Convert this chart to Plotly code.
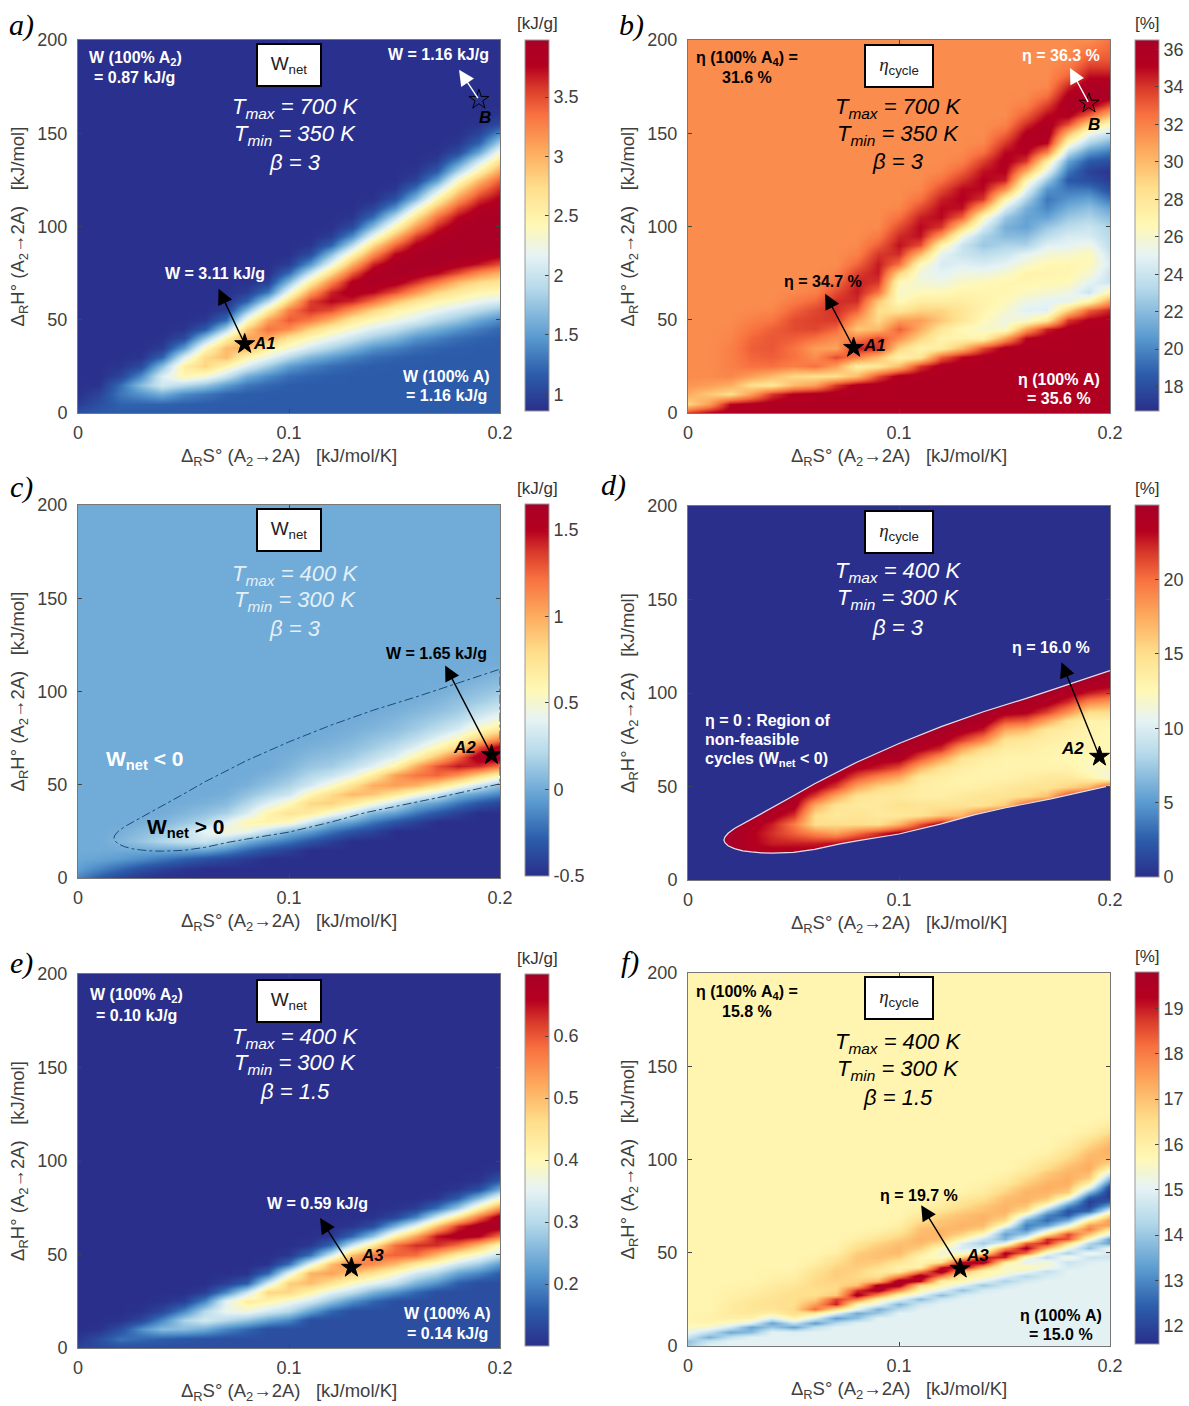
import plotly.graph_objects as go

W, H = 1189, 1406
FONT = "Liberation Sans"
SERIF = "Liberation Serif"

X = [0, .01, .02, .03, .04, .05, .06, .07, .08, .09, .10, .11, .12, .13, .14, .15, .16, .17, .18, .19, .20]

# Each column of a map: (first y that departs from the flat level below it, values at every y step from there).
# Below that y the map sits at the panel's low level, above the listed values at its high level.
A_STEP, A_LOW, A_HIGH = 5, 1.16, .87
A_COLS = [
(0,[1.1,.95,.88]),
(0,[1.14,1.08,1.0,.9]),
(0,[1.16,1.2,1.3,1.25,1.0,.9]),
(0,[1.16,1.2,1.45,1.7,1.4,1.05,.9]),
(0,[1.16,1.2,1.6,2.05,2.1,1.7,1.2,.95,.88]),
(5,[1.18,1.4,1.9,2.45,2.55,2.1,1.5,1.05,.9]),
(5,[1.17,1.3,1.75,2.3,2.8,2.75,2.4,1.75,1.15,.92]),
(10,[1.2,1.5,2.0,2.45,2.95,2.95,2.5,1.85,1.25,.95]),
(10,[1.17,1.3,1.6,2.1,2.45,3.0,3.1,2.85,2.35,1.7,1.2,.95,.88]),
(15,[1.22,1.4,1.8,2.2,2.55,3.05,3.35,3.1,2.55,1.9,1.3,.98]),
(15,[1.17,1.25,1.5,1.9,2.3,2.65,3.2,3.45,3.3,2.8,2.25,1.7,1.25,.95]),
(20,[1.2,1.35,1.65,2.05,2.4,2.8,3.3,3.6,3.55,3.1,2.55,2.0,1.45,1.05,.9]),
(20,[1.17,1.25,1.5,1.85,2.2,2.5,3.0,3.5,3.75,3.65,3.25,2.75,2.2,1.7,1.2,.95,.88]),
(25,[1.2,1.35,1.65,2.0,2.3,2.6,3.15,3.65,3.85,3.8,3.45,3.0,2.45,1.9,1.4,1.05,.9]),
(25,[1.17,1.25,1.45,1.8,2.1,2.4,2.8,3.35,3.75,3.9,3.9,3.65,3.2,2.75,2.2,1.7,1.25,1.0,.88]),
(30,[1.2,1.35,1.65,1.95,2.25,2.5,2.95,3.5,3.85,3.93,3.92,3.75,3.4,2.95,2.45,1.95,1.45,1.1,.92]),
(30,[1.17,1.25,1.45,1.75,2.1,2.35,2.65,3.15,3.6,3.9,3.95,3.92,3.8,3.55,3.15,2.7,2.25,1.7,1.3,1.0,.9]),
(35,[1.2,1.35,1.6,1.9,2.2,2.45,2.8,3.3,3.75,3.92,3.95,3.93,3.85,3.65,3.35,2.95,2.5,2.0,1.5,1.15,.95,.88]),
(35,[1.17,1.25,1.45,1.75,2.05,2.35,2.6,2.95,3.5,3.85,3.95,3.95,3.93,3.9,3.75,3.5,3.15,2.75,2.35,1.85,1.4,1.05,.92]),
(40,[1.2,1.32,1.55,1.9,2.2,2.45,2.75,3.2,3.7,3.92,3.95,3.95,3.95,3.92,3.8,3.6,3.3,2.95,2.5,2.05,1.55,1.2,1.0,.9]),
(40,[1.17,1.22,1.4,1.75,2.1,2.4,2.65,3.0,3.5,3.85,3.95,3.95,3.95,3.95,3.9,3.8,3.65,3.45,3.1,2.7,2.3,1.85,1.4,1.05,.92]),
]

B_STEP, B_LOW, B_HIGH = 5, 35.6, 31.6
B_COLS = [
(0,[34,29,30.5,31.3]),
(0,[35.3,31,29.5,31]),
(0,[35.6,35,28.5,30.5,31.8,32,32,32,31.8,31.7]),
(5,[35.4,31,28.5,31,32.5,32.8,33,32.8,32.4,32,31.7]),
(10,[34,28,30,32.5,33,33.2,33.2,33,32.4,31.8]),
(10,[35.3,30,28.8,32,32.5,32.4,33,33.5,33.5,32.9,32.2,31.7]),
(15,[31,28.5,32.5,31.5,31,32.5,33.6,33.8,33.6,32.8,32,31.7]),
(15,[34,28.5,31,33.5,30.8,31.5,32.8,33.9,34.2,34.2,33.5,32.5,31.9]),
(20,[30,27.5,32,34.7,32,29.5,31,33,34.2,34.6,34.5,33.8,32.8,32,31.7]),
(20,[33.5,28,30,34,33.5,30,28.8,28.5,29.5,32.5,34,34.6,34.6,34,33,32.2,31.7]),
(25,[30,27,29,31.5,33,31,28,26.5,26,26.5,29,32.5,34.2,34.8,34.3,33.5,32.5,31.8]),
(25,[34,28,27,29,30.5,31,29,27.5,26.5,25.8,25.5,26.5,30,33.5,34.8,35,34.5,33.5,32.5,31.8]),
(30,[33,27.5,27,28,29.5,29,27.5,26.5,25.5,25,24.5,25,27,31,34,35,35,34.5,33.5,32.5,31.8]),
(30,[35,30,27,26.5,28,28,27.5,27,26.2,25.5,24.8,24,24,25.5,29,33,34.8,35.2,35,34,33,32,31.7]),
(35,[33.5,27,26,26.5,27,27,26.8,26.5,25.5,24.5,23.5,22.5,23,24.5,26.5,30.5,34,35,35.2,34.8,33.8,32.5,31.8]),
(40,[31,26,25.5,26,26.5,26.8,26.8,26,25,24,23,22,21.5,22.5,24.5,27,31.5,34.5,35.2,35.5,35,34,32.8,31.9]),
(40,[35,31,26,24.8,25.5,26.3,26.8,27,26,25,23,22,21,21,21.5,23,25,27,30.5,34,35.2,35.8,35.3,34.2,33,32,31.7]),
(45,[34.5,28,24.8,25,26,26.6,26.9,26.7,25.8,24.8,23.5,22.5,21,20,19.5,20.5,22.5,25,27.5,32,35,36,35.8,35,33.8,32.6,31.8]),
(50,[34,29,25,25.5,26.5,26.8,26.8,26,25,24.5,23.5,22.5,21.5,20.5,19.5,18.5,19.5,21,23.5,26.5,30,33.5,35.5,36,35.5,34.5,33,32.2,31.8]),
(50,[35.3,33,27,24,25,26,26.5,26.5,25.5,24.5,24,23,22.2,21,19.5,18,17.5,18.5,20.5,23,25.5,29,33,35.8,36.3,36,35,34,33,32.2]),
(55,[34.5,31,27,24,24,24.5,24,23.5,23.3,23,22,21,19.5,18,17.3,17,18,19.5,21.5,24,26.5,30,33.5,36,36,35,34,33.2,32.8,32.5]),
]

C_STEP, C_LOW, C_HIGH = 5, -.5, 0
C_COLS = [
(0,[-.15,-.05,-.01]),
(0,[-.3,-.15,-.03,0]),
(0,[-.4,-.25,-.07,0,.05,.02]),
(0,[-.47,-.35,-.13,0,.12,.07,.02]),
(0,[-.5,-.42,-.2,0,.2,.12,.05,.01]),
(5,[-.47,-.28,-.01,.27,.25,.12,.05,.01]),
(10,[-.35,-.02,.3,.42,.2,.1,.03]),
(10,[-.4,-.12,.2,.5,.38,.17,.07,.02]),
(10,[-.45,-.25,.02,.45,.6,.35,.2,.1,.03]),
(15,[-.35,-.1,.25,.62,.62,.38,.2,.1,.04]),
(15,[-.42,-.2,.05,.55,.75,.55,.3,.18,.1,.05,.02]),
(20,[-.32,-.05,.3,.68,.82,.58,.32,.2,.12,.07,.03]),
(20,[-.42,-.2,.05,.5,.85,.8,.5,.28,.15,.1,.05,.02]),
(25,[-.32,-.05,.28,.7,.95,.75,.42,.25,.15,.09,.05,.02]),
(25,[-.4,-.2,.05,.5,.9,1.0,.68,.38,.25,.15,.1,.05,.02]),
(30,[-.32,-.05,.28,.72,1.05,1.05,.62,.38,.24,.15,.09,.05,.02]),
(30,[-.42,-.2,.05,.5,.98,1.2,1.0,.62,.38,.24,.15,.1,.05,.02]),
(35,[-.32,-.05,.3,.8,1.25,1.3,.92,.58,.38,.24,.15,.09,.05,.02]),
(35,[-.42,-.2,.05,.55,1.1,1.45,1.25,.8,.55,.35,.22,.14,.1,.05,.02]),
(40,[-.32,-.05,.3,.85,1.4,1.6,1.3,.85,.55,.36,.24,.15,.1,.05,.02]),
(40,[-.4,-.15,.08,.6,1.2,1.65,1.55,1.1,.7,.48,.33,.22,.14,.08,.04,.01]),
]

D_STEP, D_LOW, D_HIGH = 5, 24, 25
D_COLS = [
(0,[24]),
(0,[24]),
(0,[24]),
(15,[24,23.5,23.5,24,24.5]),
(15,[24,22.5,22,22.5,24,24.5]),
(15,[24,22.5,20.5,19.5,22,24,24.5]),
(15,[24,22.5,19,15,15,17.5,21.5,24,24.8]),
(15,[24,23,18,15,14,14.5,17.5,21.5,24,24.8]),
(15,[24,24,20,15,14.5,14,14.5,17.5,21,23.5,24.5]),
(20,[24,22,14.8,14,14,14,15.5,19,22.5,24,24.8]),
(20,[24,24,17,14,14.8,14,14.5,17.5,21,24,24.8]),
(25,[24,21,14.5,14.5,13.5,13.5,14,17,21,23.5,24.5]),
(25,[24,24,16,14.5,13.5,13.2,13.5,14.5,18,22,24,24.8]),
(30,[22,17,14.5,14,13.2,13,13.5,14.5,17.5,21.5,24,24.8]),
(30,[24,21,14.5,14.5,13.5,13,13,13.5,15,19,22.5,24.5]),
(35,[24,16,14.5,14,13,13,13,13.5,14.5,17.5,21,24]),
(35,[24,21,15,14.5,13.5,13,13,13.5,14,16.5,20.5,23.5,24.5]),
(40,[24,16.5,14.5,14,13,12.8,13,13.5,14,17.5,21.5,24,24.8]),
(40,[24,22,15.5,14,13,12.5,12.8,13,13.5,14.5,18.5,22,24,24.8]),
(45,[24,17,13,12,12.5,12.8,12.8,13,13,15,19,22.5,24.5]),
(50,[22,11,12,12.5,12.5,12.5,12.5,13,15,18,21.5,24]),
]

E_STEP, E_LOW, E_HIGH = 5, .14, .10
E_COLS = [
(0,[.13,.11]),
(0,[.135,.14,.105]),
(0,[.14,.18,.14,.105]),
(0,[.14,.17,.21,.13,.105]),
(5,[.16,.26,.2,.13,.105]),
(5,[.15,.26,.29,.2,.12]),
(5,[.145,.24,.33,.3,.2,.12]),
(10,[.2,.3,.36,.35,.2,.12]),
(10,[.17,.27,.37,.43,.32,.16,.105]),
(15,[.23,.33,.41,.47,.33,.17,.105]),
(15,[.2,.3,.37,.47,.48,.35,.18,.11]),
(20,[.23,.33,.41,.5,.51,.35,.18,.11]),
(20,[.17,.27,.35,.45,.53,.5,.33,.17,.11]),
(25,[.21,.31,.39,.49,.57,.5,.32,.17,.11]),
(25,[.17,.25,.35,.45,.55,.58,.44,.27,.14,.105]),
(30,[.21,.31,.39,.5,.59,.58,.42,.25,.13,.105]),
(30,[.17,.25,.33,.43,.58,.63,.53,.36,.2,.12]),
(35,[.21,.29,.38,.5,.63,.65,.5,.33,.18,.11]),
(35,[.16,.23,.32,.42,.58,.68,.63,.45,.28,.16,.11]),
(40,[.2,.28,.37,.5,.66,.69,.58,.42,.26,.14,.105]),
(40,[.16,.22,.31,.4,.58,.69,.69,.55,.38,.24,.15,.11]),
]

F_STEP, F_LOW, F_HIGH = 2.5, 15, 15.8
F_COLS = [
(0,[14.1,13.9,14.6,15.2,15.6]),
(0,[15,14.6,13.6,14.5,15.4,15.8,15.9,15.9]),
(0,[15,15,14.5,13.5,14.7,15.5,16,16.1,16.1,16.1,16,15.95,15.9,15.85]),
(2.5,[15,15,13.8,13.4,14.9,15.9,16.2,16.3,16.3,16.2,16.1,16,15.9,15.85]),
(5,[15,15,14,13.4,14.9,16,16.3,16.4,16.4,16.3,16.2,16.1,16,15.9,15.85]),
(7.5,[14.9,13.4,14.5,15.9,16.5,16.6,16.5,16.5,16.5,16.4,16.3,16.1,16,15.9]),
(7.5,[15,14.5,13.3,14.8,16.2,18.2,17.5,16.8,16.5,16.5,16.6,16.6,16.5,16.4,16.2,16,15.9]),
(10,[15,14.4,13.3,14.9,16.5,19,18.7,16.9,16.6,16.6,16.7,16.8,16.8,16.7,16.5,16.3,16,15.9]),
(12.5,[15,13.9,13.5,15.1,15.8,18,19.5,18.8,17,16.7,16.6,16.7,16.8,16.9,16.9,16.8,16.5,16.3,16,15.9]),
(15,[15,14,13.6,15.1,15.9,17.8,19.5,19.5,17.2,16.4,16.2,16.5,16.8,17,17,16.9,16.7,16.4,16.1,15.9]),
(17.5,[15,14.4,13.7,15,15.8,17.8,19.5,19.7,17.8,16.1,15.9,16.3,16.8,17.1,17.1,17,16.8,16.5,16.2,16,15.9]),
(20,[15,14.7,13.8,15,15.8,16.6,19.2,19.7,17.8,16,15.8,15.8,16.2,16.8,17.1,17.2,17.1,17,16.8,16.5,16.2,16,15.9]),
(22.5,[15,14.7,13.8,15,15.8,16,18,19.7,19,16.4,15.6,15.3,15.6,16.5,17,17.2,17.2,17,16.9,16.7,16.4,16.1,16,15.9]),
(25,[15,14.8,13.9,15,15.8,16,17.3,19.7,19.2,16.7,15.5,14.8,14.9,15.8,16.7,17.1,17.2,17.1,17,16.8,16.5,16.3,16.1,15.9]),
(27.5,[15,14.8,14,15,15.8,15.8,17.3,19.7,18.9,16.2,14.9,14.1,14.6,15.6,16.7,17.1,17.2,17.2,17,16.9,16.6,16.4,16.1,16,15.9]),
(30,[15,14.7,14.2,15,15.7,15.3,16.2,19,19.4,17.7,15,13.7,13.4,14.2,15.5,16.6,17,17.2,17.2,17.1,17,16.7,16.5,16.2,16,15.9]),
(32.5,[15,14.8,14.3,15.2,15.8,15,15.5,18.2,19.4,18.3,15.5,14,13,12.9,13.6,15,16.3,16.9,17.2,17.2,17.2,17,16.8,16.6,16.3,16.1,16,15.9]),
(35,[15,14.8,14.5,15.3,15.4,14.4,15.2,17.2,19,18.9,16.3,14.6,13.3,12.6,12.9,13.8,15.2,16.5,17,17.2,17.3,17.2,17,16.9,16.6,16.4,16.2,16,15.9]),
(40,[15,14.8,14.6,15.4,14.2,15.2,16.5,18.5,18.6,16.5,15,13.5,12.4,12.2,13,14.3,15.6,16.8,17.1,17.3,17.3,17.2,17.1,16.9,16.7,16.5,16.3,16.1,16,15.9]),
(42.5,[15,14.9,14.6,15.3,13.9,14.3,15.6,17,18,17.5,16,14.2,12.6,12,11.9,12.5,13.8,15.2,16,16.8,17.1,17.3,17.3,17.2,17.1,16.9,16.7,16.5,16.2,16,15.9]),
(45,[15,14.7,14.7,15.3,13.4,13.3,15,16.3,17.5,17.6,16.6,15.2,13.5,12.3,11.8,11.7,12,12.8,13.8,14.8,15.8,16.6,17,17.2,17.3,17.2,17,16.8,16.5,16.2,16,15.9]),
]

# limit of the region with Wnet > 0 (panels c and d)
BOUND_UP_X = [.017,.0175,.019,.022,.026,.03,.04,.05,.06,.08,.10,.12,.14,.16,.18,.20]
BOUND_UP_Y = [21.4,23,25,27.5,30,32.5,38.5,45,51.5,63,73,82,90,97,104.5,112]
BOUND_LOW_X = [.017,.0175,.019,.022,.026,.03,.035,.04,.05,.06,.072,.08,.10,.12,.136,.15,.172,.20]
BOUND_LOW_Y = [21.4,20,18.3,16.8,15.6,15,14.5,14.4,14.8,16.4,19.3,20.9,24.6,30,35,38.5,43.4,50.5]

SCALE = [[0,"#2a2f8c"],[.1,"#2c5dab"],[.2,"#5a9bd0"],[.33,"#b5d9ea"],[.42,"#e6f3f4"],[.5,"#fff8b5"],
         [.6,"#fedf8c"],[.7,"#fdab5e"],[.8,"#f8703f"],[.87,"#d93a2a"],[.93,"#b5001f"],[1,"#a80028"]]
NAVY = SCALE[0][1]

X_TICKS = [0, .1, .2]
X_TICKTEXT = ["0", "0.1", "0.2"]
Y_TICKS = [0, 50, 100, 150, 200]
XT = "Δ<sub>R</sub>S° (A<sub>2</sub>→2A)   [kJ/mol/K]"
YT = "Δ<sub>R</sub>H° (A<sub>2</sub>→2A)   [kJ/mol]"


def grid(cols, step, low, high):
    n = int(200 / step) + 1
    ys = [i * step for i in range(n)]
    rows = [[None] * len(cols) for _ in ys]
    for j, (start, vals) in enumerate(cols):
        first = int(round(start / step))
        for i in range(n):
            if i < first:
                rows[i][j] = low
            elif i - first < len(vals):
                rows[i][j] = vals[i - first]
            else:
                rows[i][j] = high
    return ys, rows


PANELS = [
    dict(id="", g=grid(A_COLS, A_STEP, A_LOW, A_HIGH), box=(78, 500, 40, 413), cb=(525, 40, 411), zr=(.86, 3.98),
         unit="[kJ/g]", ticks=[1, 1.5, 2, 2.5, 3, 3.5], tt=["1", "1.5", "2", "2.5", "3", "3.5"]),
    dict(id="2", g=grid(B_COLS, B_STEP, B_LOW, B_HIGH), box=(688, 1110, 40, 413), cb=(1135, 40, 411), zr=(16.7, 36.5),
         unit="[%]", ticks=[18, 20, 22, 24, 26, 28, 30, 32, 34, 36], tt=None),
    dict(id="3", g=grid(C_COLS, C_STEP, C_LOW, C_HIGH), box=(78, 500, 505, 878), cb=(525, 504, 876), zr=(-.5, 1.65),
         unit="[kJ/g]", ticks=[-.5, 0, .5, 1, 1.5], tt=["-0.5", "0", "0.5", "1", "1.5"]),
    dict(id="4", g=grid(D_COLS, D_STEP, D_LOW, D_HIGH), box=(688, 1110, 506, 880), cb=(1135, 505, 877), zr=(0, 25),
         unit="[%]", ticks=[0, 5, 10, 15, 20], tt=None),
    dict(id="5", g=grid(E_COLS, E_STEP, E_LOW, E_HIGH), box=(78, 500, 974, 1348), cb=(525, 974, 1346), zr=(.10, .70),
         unit="[kJ/g]", ticks=[.2, .3, .4, .5, .6], tt=["0.2", "0.3", "0.4", "0.5", "0.6"]),
    dict(id="6", g=grid(F_COLS, F_STEP, F_LOW, F_HIGH), box=(688, 1110, 973, 1346), cb=(1135, 972, 1344), zr=(11.6, 19.8),
         unit="[%]", ticks=[12, 13, 14, 15, 16, 17, 18, 19], tt=None),
]

fig = go.Figure()
layout = {}
annos = []


def txt(x, y, text, size=16, color="white", bold=True, italic=False, family=FONT, align="center", anchor="center"):
    if bold:
        text = "<b>" + text + "</b>"
    if italic:
        text = "<i>" + text + "</i>"
    annos.append(dict(xref="paper", yref="paper", x=x / W, y=1 - y / H, text=text, showarrow=False,
                      xanchor=anchor, yanchor="middle", align=align,
                      font=dict(family=family, size=size, color=color)))


for p in PANELS:
    x0, x1, y0, y1 = p["box"]
    cx, cy0, cy1 = p["cb"]
    ys, rows = p["g"]
    fig.add_trace(go.Heatmap(
        x=X, y=ys, z=rows, zmin=p["zr"][0], zmax=p["zr"][1], colorscale=SCALE, zsmooth="best",
        xaxis="x" + p["id"], yaxis="y" + p["id"], hoverinfo="skip",
        colorbar=dict(
            x=cx / W, xanchor="left", xpad=0, ypad=0, y=1 - cy1 / H, yanchor="bottom",
            len=(cy1 - cy0) / H, lenmode="fraction", thickness=24, thicknessmode="pixels",
            tickvals=p["ticks"], ticktext=p["tt"] if p["tt"] else [str(t) for t in p["ticks"]],
            ticks="inside", ticklen=4, tickcolor="#444", outlinecolor="#999", outlinewidth=1,
            tickfont=dict(family=FONT, size=18, color="#404040"),
        )))
    txt(cx + 12, cy0 - 16, p["unit"], size=17, color="#333", bold=False)
    axis_common = dict(showgrid=False, zeroline=False, ticks="inside", ticklen=4, tickcolor="#444",
                       linecolor="#777", linewidth=1, mirror="ticks", automargin=False,
                       tickfont=dict(family=FONT, size=18, color="#404040"))
    layout["xaxis" + p["id"]] = dict(
        domain=[x0 / W, x1 / W], range=[0, .2], anchor="y" + p["id"], tickvals=X_TICKS, ticktext=X_TICKTEXT,
        ticklabelstandoff=3,
        title=dict(text=XT, standoff=7, font=dict(family=FONT, size=18.5, color="#404040")), **axis_common)
    layout["yaxis" + p["id"]] = dict(
        domain=[1 - y1 / H, 1 - y0 / H], range=[0, 200], anchor="x" + p["id"], tickvals=Y_TICKS,
        ticklabelstandoff=6,
        title=dict(text=YT, standoff=7, font=dict(family=FONT, size=18.5, color="#404040")), **axis_common)

# limit of the Wnet > 0 region
c_x = BOUND_UP_X + [.2] + BOUND_LOW_X[::-1]
c_y = BOUND_UP_Y + [81] + BOUND_LOW_Y[::-1]
fig.add_trace(go.Scatter(x=c_x, y=c_y, mode="lines", xaxis="x3", yaxis="y3", showlegend=False, hoverinfo="skip",
                         line=dict(color="#1d4a78", width=1, dash="dashdot")))
# crisp edge of panel d: non-feasible cycles are flat zero outside the limit
mask_x = BOUND_UP_X + [.2, 0, 0, .2] + BOUND_LOW_X[::-1]
mask_y = BOUND_UP_Y + [200, 200, 0, 0] + BOUND_LOW_Y[::-1]
fig.add_trace(go.Scatter(x=mask_x, y=mask_y, mode="lines", fill="toself", fillcolor=NAVY, xaxis="x4", yaxis="y4",
                         showlegend=False, hoverinfo="skip", line=dict(color=NAVY, width=0)))
fig.add_trace(go.Scatter(x=BOUND_LOW_X[::-1] + BOUND_UP_X, y=BOUND_LOW_Y[::-1] + BOUND_UP_Y, mode="lines",
                         xaxis="x4", yaxis="y4", showlegend=False, hoverinfo="skip",
                         line=dict(color="#e6dfe6", width=1.2)))

# optimum points: (axis id, x, y, open?, head x, head y, arrow colour)
POINTS = [
    ("", .079, 37, False, .0666, 66.6, "black"),
    ("", .19, 168, True, .1806, 184, "white"),
    ("2", .0785, 35, False, .065, 64, "black"),
    ("2", .19, 166, True, .181, 185, "white"),
    ("3", .196, 66, False, .174, 114, "black"),
    ("4", .195, 66, False, .177, 116.5, "black"),
    ("5", .1296, 43, False, .1147, 69.5, "black"),
    ("6", .129, 41.5, False, .1105, 75.5, "black"),
]
for ax, px, py, is_open, hx, hy, col in POINTS:
    annos.append(dict(xref="x" + ax, yref="y" + ax, axref="x" + ax, ayref="y" + ax, x=hx, y=hy, ax=px, ay=py,
                      text="", showarrow=True, arrowhead=2, arrowsize=2.2, arrowwidth=1.4, arrowcolor=col))
    fig.add_trace(go.Scatter(x=[px], y=[py], mode="markers", xaxis="x" + ax, yaxis="y" + ax, showlegend=False,
                             hoverinfo="skip",
                             marker=dict(symbol="star-open" if is_open else "star", size=15, color="black",
                                         line=dict(color="black", width=1))))


def box(xc, yc, text, w, h=38):
    annos.append(dict(xref="paper", yref="paper", x=xc / W, y=1 - yc / H, text=text, showarrow=False, bgcolor="white",
                      bordercolor="black", borderwidth=2, width=w, height=h, xanchor="center", yanchor="middle",
                      font=dict(family=FONT, size=19, color="#222")))


WNET = "W<sub>net</sub>"
ETA = "<span style='font-family:Liberation Serif'><i>η</i></span><sub>cycle</sub>"
for xc, yc in [(289, 65.5), (289, 530), (289, 1000.5)]:
    box(xc, yc, WNET, 60)
for xc, yc in [(899, 66), (899, 531.5), (899, 998.5)]:
    box(xc, yc, ETA, 64)

CONDS = [
    (295, (108, 135, 163), "700", "350", "3", "white"),
    (898, (108, 135, 162), "700", "350", "3", "black"),
    (295, (575, 601, 628), "400", "300", "3", "#e4f0f7"),
    (898, (572, 599, 627), "400", "300", "3", "white"),
    (295, (1038, 1064, 1091), "400", "300", "1.5", "white"),
    (898, (1043, 1070, 1097), "400", "300", "1.5", "black"),
]
for xc, ys, tmax, tmin, beta, col in CONDS:
    txt(xc, ys[0], f"T<sub>max</sub> = {tmax} K", size=22, color=col, bold=False, italic=True)
    txt(xc, ys[1], f"T<sub>min</sub> = {tmin} K", size=22, color=col, bold=False, italic=True)
    txt(xc, ys[2], f"β = {beta}", size=22, color=col, bold=False, italic=True)

LABELS = [
    (135, 59, "W (100% A<sub>2</sub>)", "white"), (134, 78, "= 0.87 kJ/g", "white"),
    (438, 55, "W = 1.16 kJ/g", "white"), (215, 273, "W = 3.11 kJ/g", "white"),
    (446, 376, "W (100% A)", "white"), (446, 396, "= 1.16 kJ/g", "white"),
    (747, 58, "η (100% A<sub>4</sub>) =", "black"), (747, 78, "31.6 %", "black"),
    (1061, 56, "η = 36.3 %", "white"), (823, 281, "η = 34.7 %", "black"),
    (1059, 379, "η (100% A)", "white"), (1059, 398, "= 35.6 %", "white"),
    (436, 653, "W = 1.65 kJ/g", "black"), (1051, 648, "η = 16.0 %", "white"),
    (136, 995, "W (100% A<sub>2</sub>)", "white"), (136, 1015, "= 0.10 kJ/g", "white"),
    (318, 1203, "W = 0.59 kJ/g", "white"),
    (447, 1313, "W (100% A)", "white"), (447, 1333, "= 0.14 kJ/g", "white"),
    (747, 992, "η (100% A<sub>4</sub>) =", "black"), (747, 1011, "15.8 %", "black"),
    (919, 1195, "η = 19.7 %", "black"),
    (1061, 1315, "η (100% A)", "black"), (1061, 1334, "= 15.0 %", "black"),
]
for x, y, t, c in LABELS:
    txt(x, y, t, size=16, color=c)

for x, y, t in [(703, 720, "η = 0 : Region of"), (703, 739, "non-feasible"), (703, 759, "cycles (W<sub>net</sub> &lt; 0)")]:
    txt(x, y, t, size=16, anchor="left")

txt(144, 760, "W<sub>net</sub> &lt; 0", size=21, color="white")
txt(185, 828, "W<sub>net</sub> &gt; 0", size=21, color="black")

for x, y, t in [(264, 343, "A1"), (485, 118, "B"), (874, 346, "A1"), (1094, 124, "B"), (464, 747, "A2"),
                (1072, 748, "A2"), (372, 1255, "A3"), (977, 1255, "A3")]:
    txt(x, y, t, size=17, color="black", italic=True)

for x, y, t in [(21, 25, "a)"), (631, 25, "b)"), (21, 487, "c)"), (613, 485, "d)"), (21, 963, "e)"), (630, 962, "f)")]:
    txt(x, y, t, size=30, color="black", bold=False, italic=True, family=SERIF)

fig.update_layout(width=W, height=H, margin=dict(l=0, r=0, t=0, b=0), paper_bgcolor="white", plot_bgcolor="white",
                  showlegend=False, annotations=annos, **layout)
fig.write_html("out.html", config={"displayModeBar": False}, post_script="document.body.style.margin='0';")
